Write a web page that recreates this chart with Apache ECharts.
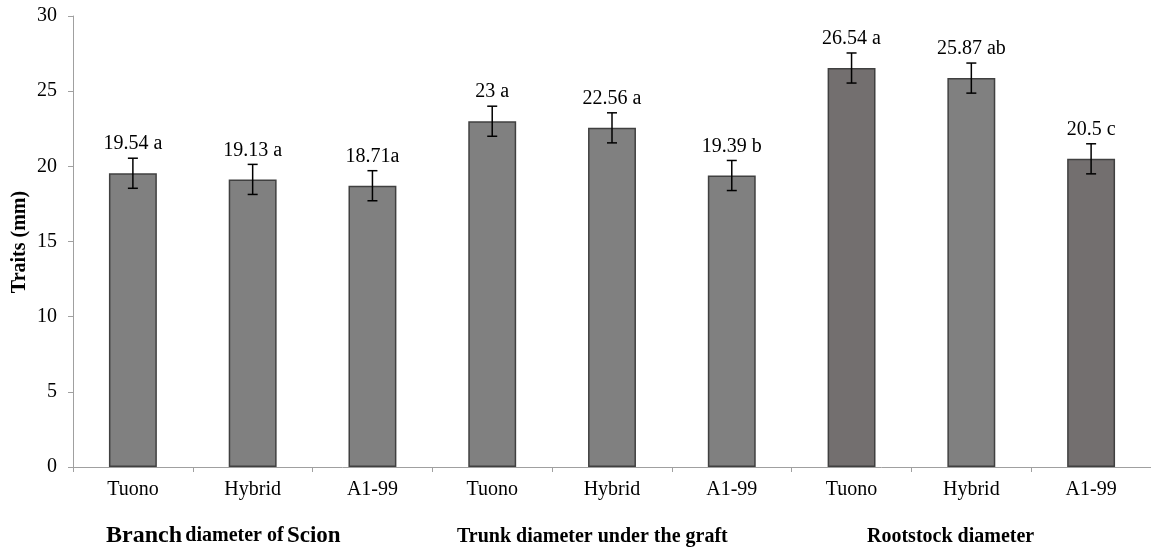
<!DOCTYPE html>
<html><head><meta charset="utf-8">
<script src="https://cdn.jsdelivr.net/npm/echarts@6/dist/echarts.min.js"></script>
<style>html,body{margin:0;padding:0;background:#fff}#c{width:1151px;height:555px}</style>
</head><body><div id="c"></div>
<script>
var categories = ['Tuono','Hybrid','A1-99','Tuono','Hybrid','A1-99','Tuono','Hybrid','A1-99'];
var values = [19.54, 19.13, 18.71, 23, 22.56, 19.39, 26.54, 25.87, 20.5];
var letters = ['a','a','a','a','a','b','a','ab','c'];
var errors = [1, 1, 1, 1, 1, 1, 1, 1, 1];
var barColors = ['#808080','#808080','#808080','#808080','#808080','#808080','#736f6f','#808080','#736f6f'];
var yTicks = [0, 5, 10, 15, 20, 25, 30];

var chart = echarts.init(document.getElementById('c'));
var font = '"Liberation Serif", "Times New Roman", serif';
chart.setOption({
  animation: false,
  grid: {left: 73, right: 0, top: 16, bottom: 88, containLabel: false, outerBoundsMode: 'none'},
  xAxis: {
    type: 'category', data: categories,
    axisLine: {lineStyle: {color: '#a0a0a0', width: 1}},
    axisTick: {show: true, length: 5, lineStyle: {color: '#a0a0a0'}},
    axisLabel: {color: '#000', fontFamily: font, fontSize: 20, margin: 13}
  },
  yAxis: {
    type: 'value', min: yTicks[0], max: yTicks[yTicks.length-1], interval: 5,
    axisLine: {show: true, lineStyle: {color: '#a0a0a0'}},
    axisTick: {show: true, length: 5, lineStyle: {color: '#a0a0a0'}},
    splitLine: {show: false},
    axisLabel: {color: '#000', fontFamily: font, fontSize: 20, margin: 16}
  },
  series: [{
    type: 'bar', barWidth: '40%',
    data: values.map(function(v, i){ return {value: v, itemStyle: {color: barColors[i]}}; }),
    itemStyle: {borderColor: '#404040', borderWidth: 1.5},
    label: {
      show: true, position: 'top', distance: 19, color: '#000',
      fontFamily: font, fontSize: 20,
      formatter: function(p){ var i = p.dataIndex; return values[i] + (i === 2 ? '' : ' ') + letters[i]; }
    }
  }, {
    type: 'custom',
    data: values.map(function(v, i){ return [i, v - errors[i], v + errors[i]]; }),
    renderItem: function(params, api){
      var lo = api.coord([api.value(0), api.value(1)]);
      var hi = api.coord([api.value(0), api.value(2)]);
      var x = lo[0], w = 5;
      var st = {stroke: '#000', lineWidth: 1.5};
      return {type: 'group', children: [
        {type: 'line', shape: {x1: x, y1: lo[1], x2: x, y2: hi[1]}, style: st},
        {type: 'line', shape: {x1: x - w, y1: lo[1], x2: x + w, y2: lo[1]}, style: st},
        {type: 'line', shape: {x1: x - w, y1: hi[1], x2: x + w, y2: hi[1]}, style: st}
      ]};
    },
    z: 5
  }],
  graphic: [
    {type: 'text', x: 20, y: 242, rotation: Math.PI / 2, style: {
      text: 'Traits (mm)', fontFamily: font, fontSize: 20, fontWeight: 'bold', fill: '#000',
      align: 'center', verticalAlign: 'middle'
    }},
    {type: 'text', left: 106, top: 524, style: {
      text: '{big|Branch} {small|diameter of} {mid|Scion}',
      rich: {
        big: {fontFamily: font, fontSize: 24, fontWeight: 'bold', fill: '#000'},
        mid: {fontFamily: font, fontSize: 23, fontWeight: 'bold', fill: '#000'},
        small: {fontFamily: font, fontSize: 20, fontWeight: 'bold', fill: '#000'}
      }
    }},
    {type: 'text', left: 457, top: 527, style: {text: 'Trunk diameter under the graft', fontFamily: font, fontSize: 20, fontWeight: 'bold', fill: '#000'}},
    {type: 'text', left: 867, top: 527, style: {text: 'Rootstock diameter', fontFamily: font, fontSize: 20, fontWeight: 'bold', fill: '#000'}}
  ]
});
</script></body></html>
